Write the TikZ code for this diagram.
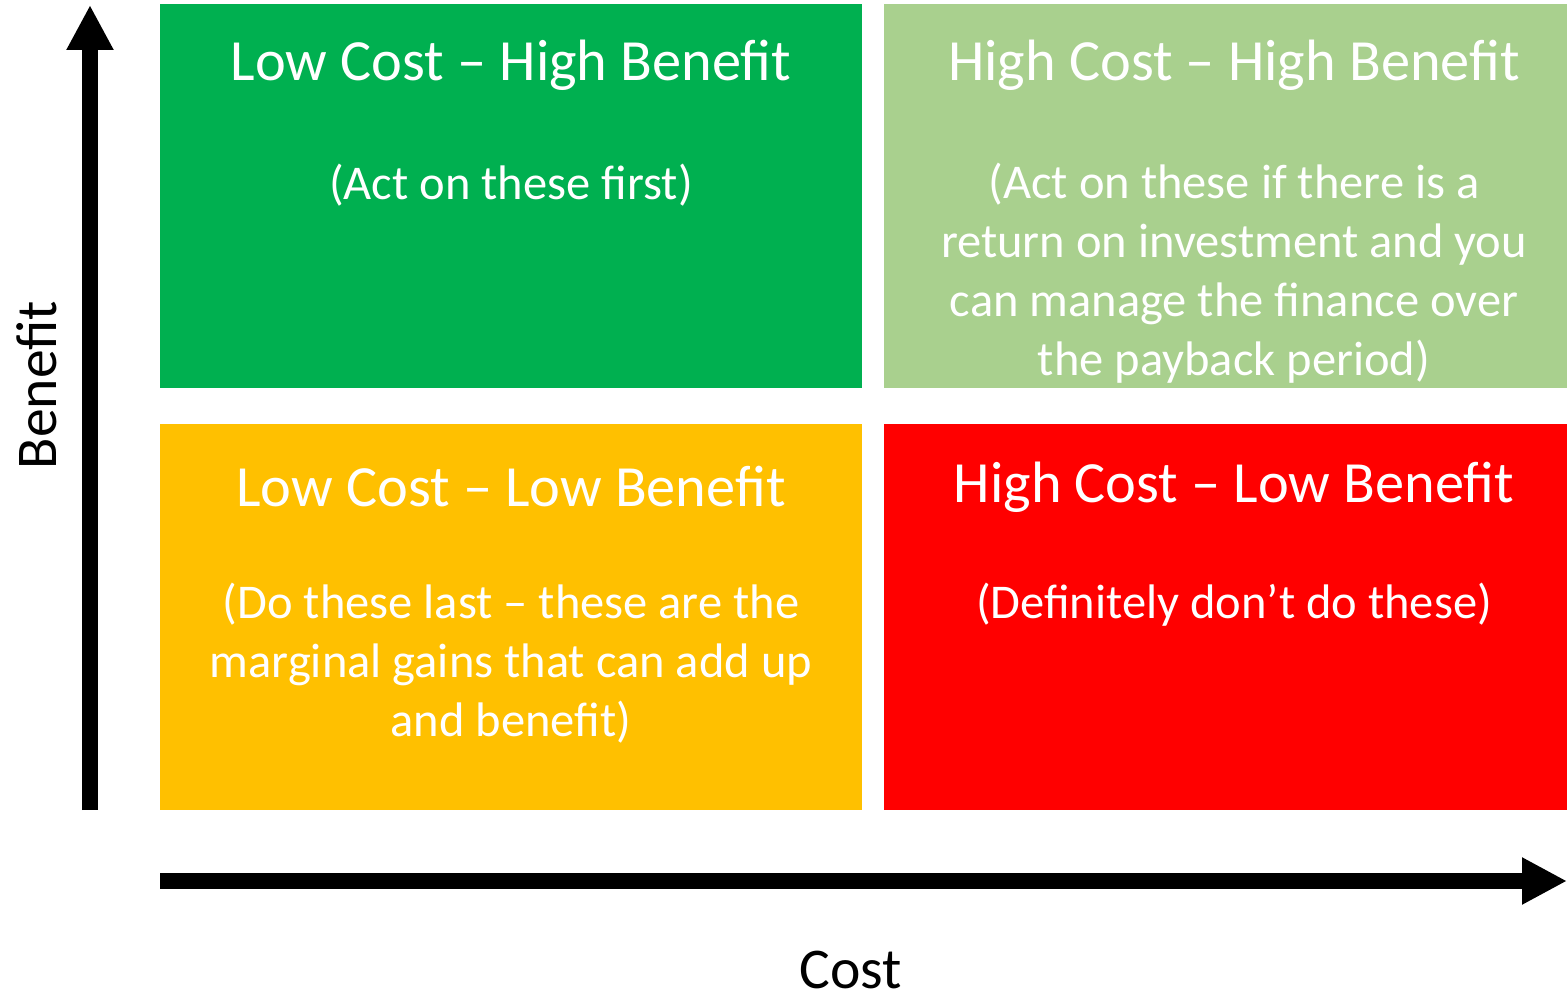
\documentclass[tikz,border=0pt]{standalone}
\usepackage{fontspec}
\setmainfont{Carlito}
\usetikzlibrary{arrows.meta,positioning}

\definecolor{lcgreen}{HTML}{00B050}
\definecolor{hcgreen}{HTML}{A9D08E}
\definecolor{lcorange}{HTML}{FFC000}
\definecolor{hcred}{HTML}{FF0000}

\begin{document}
\begin{tikzpicture}[quad/.style={rectangle,draw=none,minimum width=7.02cm,minimum height=3.84cm,inner sep=0pt},
  title/.style={text=white,font=\fontsize{16.6}{20}\selectfont,inner sep=0pt},
  body/.style={text=white,align=center,font=\fontsize{13.8}{16.8}\selectfont,inner sep=0pt},
  axis/.style={line width=4.3pt,-{Triangle[length=0.45cm,width=0.44cm]}},
  axislabel/.style={font=\fontsize{16.4}{20}\selectfont,inner sep=0pt}]
\useasboundingbox (0,0) rectangle (15.67,10.01);

% quadrants
\node (LH)[quad,fill=lcgreen] at (5.11,8.05) {};
\node (HH)[quad,fill=hcgreen,minimum width=6.83cm] at (12.255,8.05) {};
\node (LL)[quad,fill=lcorange,minimum height=3.86cm] at (5.11,3.84) {};
\node (HL)[quad,fill=hcred,minimum width=6.83cm,minimum height=3.86cm] at (12.255,3.84) {};

% titles and notes
\node (LHt)[title] at (5.11,9.36) {Low Cost – High Benefit};
\node (LHb)[body] at (5.11,8.16) {(Act on these first)};
\node (HHt)[title] at (12.34,9.36) {High Cost – High Benefit};
\node (HHb)[body] at (12.34,7.275) {(Act on these if there is a\\return on investment and you\\can manage the finance over\\the payback period)};
\node (LLt)[title] at (5.11,5.14) {Low Cost – Low Benefit};
\node (LLb)[body] at (5.11,3.375) {(Do these last – these are the\\marginal gains that can add up\\and benefit)};
\node (HLt)[title] at (12.34,5.14) {High Cost – Low Benefit};
\node (HLb)[body] at (12.34,3.96) {(Definitely don’t do these)};

% axes
\coordinate (benefitlow) at (0.90,1.91);
\coordinate (benefithigh) at (0.90,9.96);
\coordinate (costlow) at (1.60,1.20);
\coordinate (costhigh) at (15.67,1.20);
\draw [axis] (benefitlow) to (benefithigh);
\draw [axis] (costlow) to (costhigh);
\node (benefit)[axislabel,rotate=90] at (0.37,6.16) {Benefit};
\node (cost)[axislabel] at (8.51,0.31) {Cost};
\end{tikzpicture}
\end{document}
